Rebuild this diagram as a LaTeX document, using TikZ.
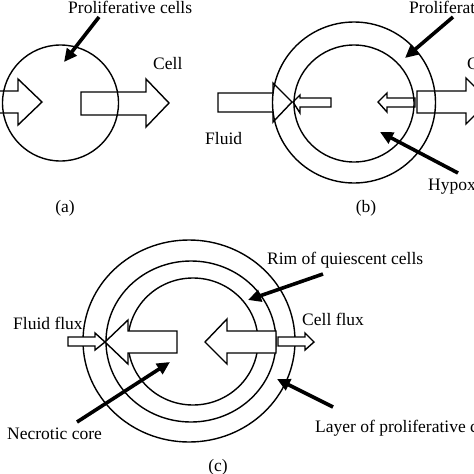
\documentclass[tikz,border=0pt]{standalone}
\usepackage{fontspec}
\setmainfont{Liberation Serif}
\usetikzlibrary{arrows.meta}
\begin{document}
\begin{tikzpicture}[x=1pt,y=-1pt,
  lbl/.style={font=\fontsize{17.5}{20}\selectfont, inner sep=0pt, anchor=base west},
  ring/.style={line width=1.4pt},
  blockarrow/.style={line width=1.4pt, line join=miter},
  filledarrow/.style={blockarrow, fill=white},
  pointer/.style={line width=3.6pt, -{Triangle[length=13pt,width=12pt]}}]
\useasboundingbox (0,0) rectangle (474,474);
\clip (0,0) rectangle (474,474);
\fill[white] (0,0) rectangle (474,474);

% ---------- panel (a)
\draw[ring] (60.5,103) circle [radius=58pt];
\draw[blockarrow] (-5,91) -- (18,91) -- (18,79) -- (42,102) -- (18,125) -- (18,113) -- (-5,113);
\draw[blockarrow] (81,92) -- (146,92) -- (146,79) -- (169,103) -- (146,127) -- (146,115) -- (81,115) -- cycle;
\node[lbl] (profA) at (68,13) {Proliferative cells};
\node[lbl] (cellA) at (153,69) {Cell};
\node[lbl,anchor=base] (capA) at (65,212) {(a)};
\coordinate (pAs) at (99,17);
\coordinate (pAe) at (64,62);
\draw[pointer] (pAs) -- (pAe);

% ---------- panel (b)
\draw[ring] (354,102.5) ellipse [x radius=81.5pt, y radius=80.5pt];
\draw[ring] (354,103.5) ellipse [x radius=60pt, y radius=58.5pt];
\draw[blockarrow] (218,93) -- (273,93) -- (273,83) -- (292,102) -- (273,122) -- (273,112) -- (218,112) -- cycle;
\draw[blockarrow] (293,102) -- (300,95) -- (300,98) -- (331,98) -- (331,107) -- (300,107) -- (300,113) -- cycle;
\draw[blockarrow] (378,102) -- (387,93) -- (387,98) -- (415,98) -- (415,107) -- (387,107) -- (387,112) -- cycle;
\draw[blockarrow] (417,91) -- (466,91) -- (466,78) -- (489,101) -- (466,124) -- (466,113) -- (417,113) -- cycle;
\node[lbl] (fluidB) at (205,144) {Fluid};
\node[lbl,anchor=base] (capB) at (366,212) {(b)};
\node[lbl] (profB) at (409,13) {Proliferative cells};
\node[lbl] (cellB) at (467,69) {Cell};
\node[lbl] (hypB) at (428,190) {Hypoxic cells};
\coordinate (pBs) at (453,17);
\coordinate (pBe) at (405,58);
\draw[pointer] (pBs) -- (pBe);
\coordinate (hBs) at (458,173);
\coordinate (hBe) at (380,132);
\draw[pointer] (hBs) -- (hBe);

% ---------- panel (c)
\draw[ring] (189,341) ellipse [x radius=106pt, y radius=101pt];
\draw[ring] (191,341.5) ellipse [x radius=85pt, y radius=80.5pt];
\draw[ring] (193,341.5) ellipse [x radius=65pt, y radius=63.5pt];
\draw[filledarrow] (68,337) -- (95,337) -- (95,333) -- (105,342) -- (95,350) -- (95,346) -- (68,346) -- cycle;
\draw[filledarrow] (105,342) -- (128,320) -- (128,331) -- (177,331) -- (177,353) -- (128,353) -- (128,364) -- cycle;
\draw[filledarrow] (205,342) -- (227,319) -- (227,331) -- (276,331) -- (276,353) -- (227,353) -- (227,364) -- cycle;
\draw[filledarrow] (278,337) -- (305,337) -- (305,333) -- (314,342) -- (305,350) -- (305,346) -- (278,346) -- cycle;
\node[lbl] (rimC) at (267,264) {Rim of quiescent cells};
\node[lbl] (fluidC) at (13,329) {Fluid flux};
\node[lbl] (cellC) at (302,325) {Cell flux};
\node[lbl] (necC) at (7,439) {Necrotic core};
\node[lbl] (layC) at (315,432) {Layer of proliferative cells};
\node[lbl,anchor=base] (capC) at (218,471) {(c)};
\coordinate (rCs) at (323,274);
\coordinate (rCe) at (248,300);
\draw[pointer] (rCs) -- (rCe);
\coordinate (lCs) at (333,407);
\coordinate (lCe) at (277,379);
\draw[pointer] (lCs) -- (lCe);
\coordinate (nCs) at (77,422);
\coordinate (nCe) at (170,362);
\draw[pointer] (nCs) -- (nCe);
\end{tikzpicture}
\end{document}
